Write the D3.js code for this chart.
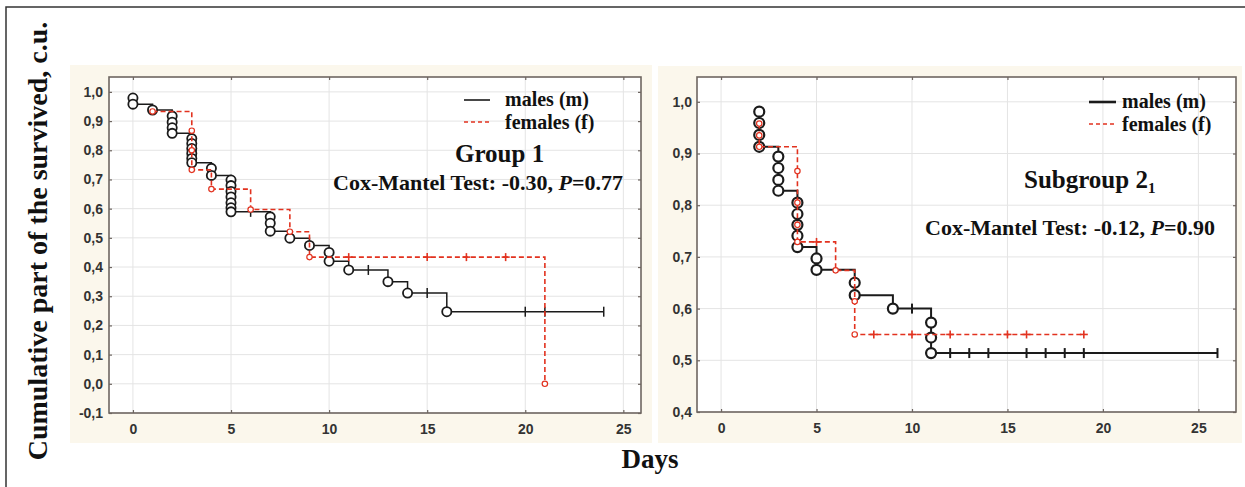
<!DOCTYPE html>
<html>
<head>
<meta charset="utf-8">
<script src="https://cdn.jsdelivr.net/npm/d3@7/dist/d3.min.js"></script>
<style>
  body { margin: 0; background: #fff; }
  svg { display: block; }
</style>
</head>
<body>
<div id="app"></div>
<script>
// 数据：时间(天)、累计生存率、类型 ('o' = 事件, 'c' = 删失)
const xTicks = [0, 5, 10, 15, 20, 25];
const yTicksGroup1 = [-0.1, 0, 0.1, 0.2, 0.3, 0.4, 0.5, 0.6, 0.7, 0.8, 0.9, 1.0];
const yTicksSub2 = [0.4, 0.5, 0.6, 0.7, 0.8, 0.9, 1.0];

const group1Males = [
  [0, 0.979, 'o'], [0, 0.958, 'o'], [1, 0.938, 'o'],
  [2, 0.917, 'o'], [2, 0.896, 'o'], [2, 0.877, 'o'], [2, 0.858, 'o'],
  [3, 0.840, 'o'], [3, 0.823, 'o'], [3, 0.806, 'o'], [3, 0.789, 'o'], [3, 0.772, 'o'], [3, 0.757, 'o'],
  [4, 0.738, 'o'], [4, 0.714, 'o'],
  [5, 0.698, 'o'], [5, 0.679, 'o'], [5, 0.659, 'o'], [5, 0.640, 'o'], [5, 0.620, 'o'], [5, 0.603, 'o'], [5, 0.589, 'o'],
  [6, 0.589, 'c'],
  [7, 0.572, 'o'], [7, 0.550, 'o'], [7, 0.523, 'o'],
  [8, 0.499, 'o'], [9, 0.474, 'o'],
  [10, 0.450, 'o'], [10, 0.420, 'o'],
  [11, 0.390, 'o'], [12, 0.390, 'c'],
  [13, 0.350, 'o'], [14, 0.311, 'o'], [15, 0.311, 'c'],
  [16, 0.247, 'o'], [20, 0.247, 'c'], [21, 0.247, 'c'], [24, 0.247, 'c']
];
const group1Females = [
  [1, 0.933, 'o'],
  [3, 0.867, 'o'], [3, 0.800, 'o'], [3, 0.733, 'o'],
  [4, 0.667, 'o'], [6, 0.597, 'o'], [8, 0.521, 'o'], [9, 0.434, 'o'],
  [11, 0.434, 'c'], [15, 0.434, 'c'], [17, 0.434, 'c'], [19, 0.434, 'c'],
  [21, 0.0, 'o']
];
const sub2Males = [
  [2, 0.981, 'o'], [2, 0.959, 'o'], [2, 0.936, 'o'], [2, 0.913, 'o'],
  [3, 0.894, 'o'], [3, 0.872, 'o'], [3, 0.849, 'o'], [3, 0.828, 'o'],
  [4, 0.805, 'o'], [4, 0.783, 'o'], [4, 0.762, 'o'], [4, 0.741, 'o'], [4, 0.719, 'o'],
  [5, 0.697, 'o'], [5, 0.675, 'o'],
  [7, 0.650, 'o'], [7, 0.626, 'o'],
  [9, 0.600, 'o'], [10, 0.600, 'c'],
  [11, 0.573, 'o'], [11, 0.544, 'o'], [11, 0.514, 'o'],
  [12, 0.514, 'c'], [13, 0.514, 'c'], [14, 0.514, 'c'], [16, 0.514, 'c'],
  [17, 0.514, 'c'], [18, 0.514, 'c'], [19, 0.514, 'c'], [26, 0.514, 'c']
];
const sub2Females = [
  [2, 0.958, 'o'], [2, 0.935, 'o'], [2, 0.913, 'o'],
  [4, 0.866, 'o'], [4, 0.805, 'o'], [4, 0.762, 'o'], [4, 0.729, 'o'],
  [5, 0.729, 'c'], [6, 0.674, 'o'],
  [7, 0.614, 'o'], [7, 0.550, 'o'],
  [8, 0.550, 'c'], [10, 0.550, 'c'], [12, 0.550, 'c'], [15, 0.550, 'c'], [16, 0.550, 'c'], [19, 0.550, 'c']
];

const seriesLabels = ['males (m)', 'females (f)'];

// 样式
const W = 1245, H = 487;
const serif = '"Liberation Serif", "Times New Roman", serif';
const sans = '"Liberation Sans", Arial, sans-serif';
const RED = '#e2321f';
const INK = '#1b1b1b';
const FRAME = '#6e6661';

const svg = d3.select('#app').append('svg')
  .attr('width', W).attr('height', H);

// 外框
svg.append('rect')
  .attr('x', 6).attr('y', 7).attr('width', W).attr('height', H)
  .attr('fill', 'none').attr('stroke', '#333').attr('stroke-width', 1.5);

// 绘制一个面板
function drawPanel(cfg) {
  const x = d3.scaleLinear().domain(cfg.xDomain).range([cfg.left, cfg.right]);
  const y = d3.scaleLinear().domain(cfg.yDomain).range([cfg.bottom, cfg.top]);
  const g = svg.append('g');

  // 米色背景
  g.append('rect')
    .attr('x', cfg.bg[0]).attr('y', cfg.bg[1])
    .attr('width', cfg.bg[2] - cfg.bg[0]).attr('height', cfg.bg[3] - cfg.bg[1])
    .attr('fill', '#fbf7ec');

  g.append('rect')
    .attr('x', cfg.left).attr('y', cfg.top)
    .attr('width', cfg.right - cfg.left).attr('height', cfg.bottom - cfg.top)
    .attr('fill', '#fff');

  // 网格
  g.append('g').selectAll('line').data(cfg.yTicks).join('line')
    .attr('x1', cfg.left).attr('x2', cfg.right)
    .attr('y1', d => y(d)).attr('y2', d => y(d))
    .attr('stroke', '#e4e4e4').attr('stroke-width', 1);
  g.append('g').selectAll('line').data(xTicks).join('line')
    .attr('y1', cfg.top).attr('y2', cfg.bottom)
    .attr('x1', d => x(d)).attr('x2', d => x(d))
    .attr('stroke', '#e4e4e4').attr('stroke-width', 1);

  // 坐标轴
  const fmt = d => d3.format('.1f')(d).replace('\u2212', '-').replace('.', ',');
  const styleAxis = sel => {
    sel.select('.domain').remove();
    sel.selectAll('.tick line').attr('stroke', FRAME).attr('stroke-width', 1.2);
    sel.selectAll('.tick text')
      .attr('fill', '#333').attr('font-family', sans)
      .attr('font-weight', 'bold').attr('font-size', 14);
  };
  g.append('g').attr('transform', `translate(0,${cfg.bottom})`)
    .call(d3.axisBottom(x).tickValues(xTicks).tickSizeInner(-3).tickSizeOuter(0).tickPadding(11))
    .call(styleAxis);
  g.append('g').attr('transform', `translate(${cfg.left},0)`)
    .call(d3.axisLeft(y).tickValues(cfg.yTicks).tickFormat(fmt).tickSizeInner(-3).tickSizeOuter(0).tickPadding(cfg.yPad))
    .call(styleAxis);
  g.append('g').attr('transform', `translate(0,${cfg.top})`)
    .call(d3.axisTop(x).tickValues(xTicks).tickFormat('').tickSizeInner(-3).tickSizeOuter(0))
    .call(styleAxis);
  g.append('g').attr('transform', `translate(${cfg.right},0)`)
    .call(d3.axisRight(y).tickValues(cfg.yTicks).tickFormat('').tickSizeInner(-3).tickSizeOuter(0))
    .call(styleAxis);

  // 边框
  g.append('rect')
    .attr('x', cfg.left).attr('y', cfg.top)
    .attr('width', cfg.right - cfg.left).attr('height', cfg.bottom - cfg.top)
    .attr('fill', 'none').attr('stroke', FRAME).attr('stroke-width', 1.6);

  const line = d3.line()
    .x(d => x(d[0])).y(d => y(d[1]))
    .curve(d3.curveStepAfter);

  // 男性（黑色实线）
  g.append('path').datum(cfg.males)
    .attr('d', line)
    .attr('fill', 'none').attr('stroke', INK).attr('stroke-width', cfg.lw);
  g.append('g').selectAll('circle').data(cfg.males.filter(d => d[2] === 'o')).join('circle')
    .attr('cx', d => x(d[0])).attr('cy', d => y(d[1])).attr('r', cfg.r)
    .attr('fill', '#fff').attr('stroke', INK).attr('stroke-width', cfg.cw);
  g.append('g').selectAll('line').data(cfg.males.filter(d => d[2] === 'c')).join('line')
    .attr('x1', d => x(d[0])).attr('x2', d => x(d[0]))
    .attr('y1', d => y(d[1]) - 5).attr('y2', d => y(d[1]) + 5)
    .attr('stroke', INK).attr('stroke-width', cfg.lw);

  // 女性（红色虚线）
  g.append('path').datum(cfg.females)
    .attr('d', line)
    .attr('fill', 'none').attr('stroke', RED).attr('stroke-width', 1.6)
    .attr('stroke-dasharray', '5,3');
  g.append('g').selectAll('circle').data(cfg.females.filter(d => d[2] === 'o')).join('circle')
    .attr('cx', d => x(d[0])).attr('cy', d => y(d[1])).attr('r', 2.7)
    .attr('fill', '#fff').attr('stroke', RED).attr('stroke-width', 1.2);
  const cens = g.append('g').selectAll('g').data(cfg.females.filter(d => d[2] === 'c')).join('g')
    .attr('transform', d => `translate(${x(d[0])},${y(d[1])})`);
  cens.append('line').attr('x1', -4).attr('x2', 4).attr('stroke', RED).attr('stroke-width', 1.6);
  cens.append('line').attr('y1', -4).attr('y2', 4).attr('stroke', RED).attr('stroke-width', 1.6);

  // 图例
  const lg = cfg.legend;
  g.append('line').attr('x1', lg.x1).attr('x2', lg.x2).attr('y1', lg.y[0]).attr('y2', lg.y[0])
    .attr('stroke', INK).attr('stroke-width', lg.lw);
  g.append('line').attr('x1', lg.x1).attr('x2', lg.x2).attr('y1', lg.y[1]).attr('y2', lg.y[1])
    .attr('stroke', RED).attr('stroke-width', 1.6).attr('stroke-dasharray', '4,3');
  g.selectAll('.lgtext').data(seriesLabels).join('text')
    .attr('x', lg.tx).attr('y', (d, i) => lg.ty[i])
    .attr('font-family', serif).attr('font-weight', 'bold').attr('font-size', 20)
    .attr('fill', '#111').text(d => d);

  return g;
}

const g1 = drawPanel({
  xDomain: [-1.22, 25.9], yDomain: [-0.1, 1.051],
  left: 109, right: 641, top: 77, bottom: 413,
  bg: [70, 65, 652, 443], yPad: 6,
  yTicks: yTicksGroup1, males: group1Males, females: group1Females,
  lw: 1.5, cw: 1.8, r: 4.6,
  legend: { x1: 464, x2: 490, y: [100, 122], lw: 1.6, tx: 505, ty: [106, 129] }
});
const g2 = drawPanel({
  xDomain: [-1.26, 26.97], yDomain: [0.4, 1.048],
  left: 697, right: 1236, top: 77, bottom: 412,
  bg: [658, 66, 1242, 443], yPad: 5,
  yTicks: yTicksSub2, males: sub2Males, females: sub2Females,
  lw: 2, cw: 2.2, r: 5,
  legend: { x1: 1089, x2: 1116, y: [102, 124], lw: 2.6, tx: 1122, ty: [108, 131] }
});

// 组标题与检验结果
g1.append('text').attr('x', 455).attr('y', 162)
  .attr('font-family', serif).attr('font-weight', 'bold').attr('font-size', 25)
  .attr('fill', '#111').text('Group 1');

const sub = g2.append('text').attr('x', 1024).attr('y', 188)
  .attr('font-family', serif).attr('font-weight', 'bold').attr('font-size', 25)
  .attr('fill', '#111');
sub.append('tspan').text('Subgroup 2');
sub.append('tspan').attr('font-size', 15).attr('dy', 5).text('1');

function coxText(g, x, y, stat, p) {
  const t = g.append('text').attr('x', x).attr('y', y)
    .attr('font-family', serif).attr('font-weight', 'bold').attr('font-size', 22)
    .attr('fill', '#111');
  t.append('tspan').text(`Cox-Mantel Test: ${stat}, `);
  t.append('tspan').attr('font-style', 'italic').text('P');
  t.append('tspan').text(`=${p}`);
}
coxText(g1, 333, 190, '-0.30', '0.77');
coxText(g2, 925, 235, '-0.12', '0.90');

// 轴标题
svg.append('text')
  .attr('transform', 'translate(47,241) rotate(-90)')
  .attr('text-anchor', 'middle')
  .attr('font-family', serif).attr('font-weight', 'bold').attr('font-size', 28)
  .attr('fill', '#111')
  .text('Cumulative part of the survived, c.u.');

svg.append('text')
  .attr('x', 650).attr('y', 468).attr('text-anchor', 'middle')
  .attr('font-family', serif).attr('font-weight', 'bold').attr('font-size', 27)
  .attr('fill', '#111')
  .text('Days');
</script>
</body>
</html>
